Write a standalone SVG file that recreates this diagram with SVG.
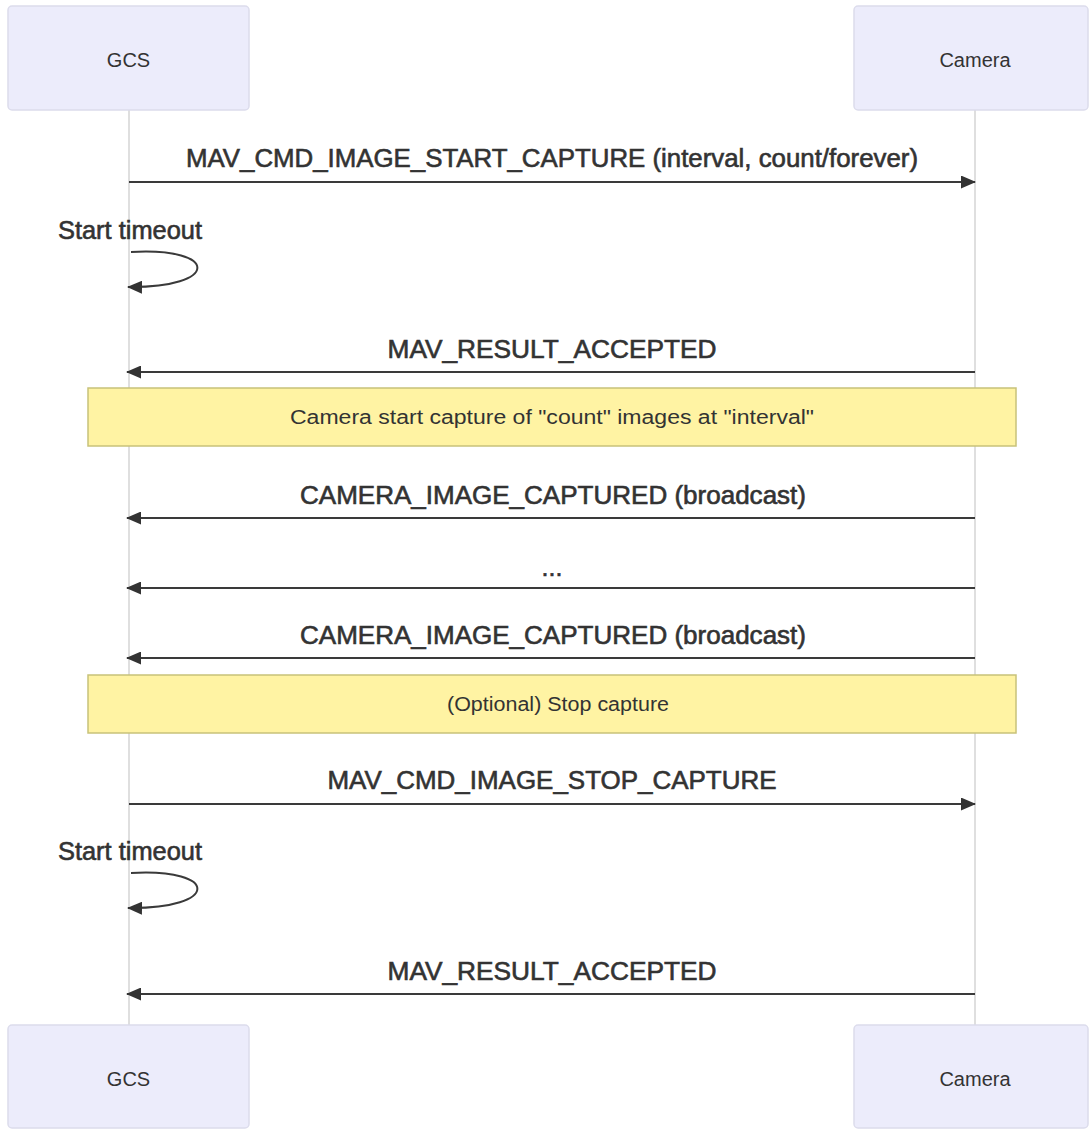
<svg xmlns="http://www.w3.org/2000/svg" width="1090" height="1130" viewBox="0 0 1090 1130">
  <style>
    .actor rect { fill: #ececfb; stroke: #dcdcec; stroke-width: 1.5; }
    .actor text { font-family: "Liberation Sans", Arial, sans-serif; font-size: 20px; fill: #333; text-anchor: middle; dominant-baseline: central; }
    .life { stroke: #d4d4d4; stroke-width: 1.5; }
    .msg { stroke: #3a3a3a; stroke-width: 2; fill: none; }
    .lbl { font-family: "Liberation Sans", Arial, sans-serif; font-size: 25px; fill: #333; text-anchor: middle; stroke: #333; stroke-width: 0.6; }
    .note rect { fill: #fff3a3; stroke: #c8c27a; stroke-width: 1.5; }
    .note text { font-family: "Liberation Sans", Arial, sans-serif; font-size: 20px; fill: #333; text-anchor: middle; dominant-baseline: central; }
  </style>
  <defs>
    <marker id="arrowhead" viewBox="0 0 15 13" refX="14" refY="6.5" markerWidth="15" markerHeight="13" markerUnits="userSpaceOnUse" orient="auto">
      <path d="M0,0 L15,6.5 L0,13 z" fill="#333"/>
    </marker>
  </defs>
  <rect width="1090" height="1130" fill="#ffffff"/>

  <!-- lifelines -->
  <g id="lifelines">
    <line class="life" x1="129" y1="110" x2="129" y2="1025"/>
    <line class="life" x1="975" y1="110" x2="975" y2="1025"/>
  </g>

  <!-- participants -->
  <g id="gcs-top" class="actor"><rect x="8" y="6" width="241" height="104" rx="4"/><text x="128.5" y="60">GCS</text></g>
  <g id="camera-top" class="actor"><rect x="854" y="6" width="234" height="104" rx="4"/><text x="975" y="60">Camera</text></g>
  <g id="gcs-bottom" class="actor"><rect x="8" y="1025" width="241" height="103" rx="4"/><text x="128.5" y="1079">GCS</text></g>
  <g id="camera-bottom" class="actor"><rect x="854" y="1025" width="234" height="103" rx="4"/><text x="975" y="1079">Camera</text></g>

  <!-- notes -->
  <g id="note-start" class="note"><rect x="88" y="388" width="928" height="58"/><text x="552" y="417" textLength="524" lengthAdjust="spacingAndGlyphs">Camera start capture of "count" images at "interval"</text></g>
  <g id="note-stop" class="note"><rect x="88" y="675" width="928" height="58"/><text x="558" y="704" textLength="222" lengthAdjust="spacingAndGlyphs">(Optional) Stop capture</text></g>

  <!-- messages -->
  <g id="connectors">
    <line class="msg" x1="129" y1="182" x2="975" y2="182" marker-end="url(#arrowhead)"/>
    <path class="msg" d="M131,252 C220,247 220,288 128,287" marker-end="url(#arrowhead)"/>
    <line class="msg" x1="975" y1="372" x2="127" y2="372" marker-end="url(#arrowhead)"/>
    <line class="msg" x1="975" y1="518" x2="127" y2="518" marker-end="url(#arrowhead)"/>
    <line class="msg" x1="975" y1="588" x2="127" y2="588" marker-end="url(#arrowhead)"/>
    <line class="msg" x1="975" y1="658" x2="127" y2="658" marker-end="url(#arrowhead)"/>
    <line class="msg" x1="129" y1="804" x2="975" y2="804" marker-end="url(#arrowhead)"/>
    <path class="msg" d="M131,873 C220,868 220,909 128,908" marker-end="url(#arrowhead)"/>
    <line class="msg" x1="975" y1="994" x2="127" y2="994" marker-end="url(#arrowhead)"/>
  </g>

  <!-- message labels -->
  <g id="labels">
    <text class="lbl" x="552" y="167" textLength="732" lengthAdjust="spacingAndGlyphs">MAV_CMD_IMAGE_START_CAPTURE (interval, count/forever)</text>
    <text class="lbl" x="130" y="239" textLength="144" lengthAdjust="spacingAndGlyphs">Start timeout</text>
    <text class="lbl" x="552" y="358" textLength="329" lengthAdjust="spacingAndGlyphs">MAV_RESULT_ACCEPTED</text>
    <text class="lbl" x="553" y="504" textLength="506" lengthAdjust="spacingAndGlyphs">CAMERA_IMAGE_CAPTURED (broadcast)</text>
    <text class="lbl" x="552" y="576" font-size="18">...</text>
    <text class="lbl" x="553" y="644" textLength="506" lengthAdjust="spacingAndGlyphs">CAMERA_IMAGE_CAPTURED (broadcast)</text>
    <text class="lbl" x="552" y="789" textLength="449" lengthAdjust="spacingAndGlyphs">MAV_CMD_IMAGE_STOP_CAPTURE</text>
    <text class="lbl" x="130" y="860" textLength="144" lengthAdjust="spacingAndGlyphs">Start timeout</text>
    <text class="lbl" x="552" y="980" textLength="329" lengthAdjust="spacingAndGlyphs">MAV_RESULT_ACCEPTED</text>
  </g>
</svg>
